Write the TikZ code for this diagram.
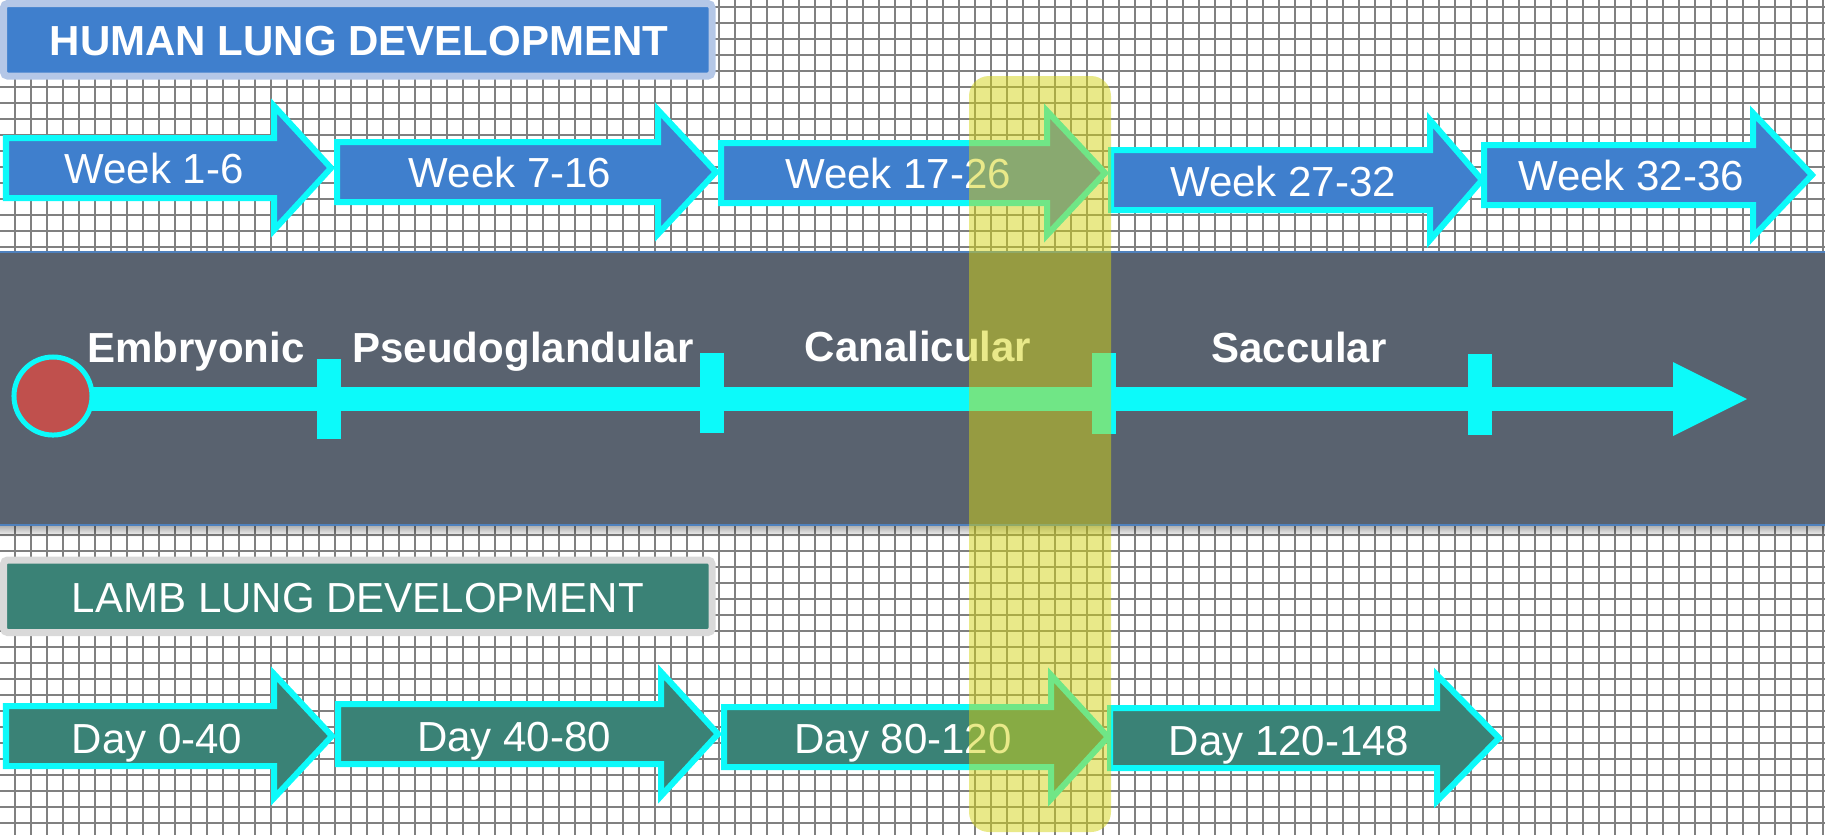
\documentclass[tikz,border=0pt]{standalone}
\usepackage{fontspec}
\setmainfont{Liberation Sans}
\usepackage{xcolor}
\usepackage{tikz}
\usetikzlibrary{fadings}
\definecolor{LungBlue}{HTML}{3F7FCD}
\definecolor{LungFrame}{HTML}{B4C7E7}
\definecolor{LambTeal}{HTML}{3A8276}
\definecolor{LambFrame}{HTML}{D9D9D9}
\definecolor{LungCyan}{HTML}{0CFAFA}
\definecolor{BandGray}{HTML}{59626F}
\definecolor{BandLine}{HTML}{4F81BD}
\definecolor{GridGray}{HTML}{808080}
\definecolor{StartRed}{HTML}{C0504D}
\definecolor{MarkYellow}{HTML}{D4D414}

\begin{document}
\begin{tikzpicture}[x=0.01cm,y=-0.01cm,
  gridline/.style={draw=GridGray,line width=0.017cm},
  weekarrow/.style={fill=LungBlue,draw=LungCyan,line width=0.06cm},
  dayarrow/.style={fill=LambTeal,draw=LungCyan,line width=0.06cm},
  arrowlabel/.style={text=white,inner sep=0pt,anchor=base,font=\fontsize{11.95}{14}\selectfont},
  phaselabel/.style={arrowlabel,font=\fontsize{11.95}{14}\selectfont\bfseries}]
\path[use as bounding box] (0,0) rectangle (1825,835);
\foreach \gx in {15,31,...,1825} \draw[gridline] (\gx,0) -- (\gx,835);
\foreach \gy in {7,23,...,835} \draw[gridline] (0,\gy) -- (1825,\gy);
\fill[BandGray] (0,252) rectangle (1825,525);
\draw[BandLine,line width=0.02cm] (0,252) -- (1825,252);
\draw[BandLine,line width=0.02cm] (0,525) -- (1825,525);
\fill[black,opacity=0.3,path fading=south] (0,526) rectangle (1825,537);
\draw[draw=LungFrame,fill=LungBlue,line width=0.07cm,rounded corners=0.04cm] (3.5,3.5) rectangle (712,76);
\node[phaselabel] (humantitle) at (359,55) {HUMAN LUNG DEVELOPMENT};
\draw[draw=LambFrame,fill=LambTeal,line width=0.07cm,rounded corners=0.04cm] (3.5,560) rectangle (712,632.5);
\node[arrowlabel] (lambtitle) at (358,612) {LAMB LUNG DEVELOPMENT};
\draw[weekarrow] (6,138) -- (274,138) -- (274,106) -- (331,168) -- (274,230) -- (274,198) -- (6,198) -- cycle;
\node[arrowlabel] (week1) at (154,183) {Week 1-6};
\draw[weekarrow] (337,142) -- (658,142) -- (658,110) -- (716,172) -- (658,234) -- (658,202) -- (337,202) -- cycle;
\node[arrowlabel] (week2) at (510,187) {Week 7-16};
\draw[weekarrow] (721,143) -- (1047,143) -- (1047,111) -- (1105,173) -- (1047,235) -- (1047,203) -- (721,203) -- cycle;
\node[arrowlabel] (week3) at (898,188) {Week 17-26};
\draw[weekarrow] (1111,150) -- (1430,150) -- (1430,120) -- (1482,180) -- (1430,240) -- (1430,210) -- (1111,210) -- cycle;
\node[arrowlabel] (week4) at (1283,196) {Week 27-32};
\draw[weekarrow] (1484,145) -- (1753,145) -- (1753,113) -- (1812,175) -- (1753,237) -- (1753,205) -- (1484,205) -- cycle;
\node[arrowlabel] (week5) at (1631,190) {Week 32-36};
\draw[dayarrow] (6,706) -- (274,706) -- (274,674) -- (332,736) -- (274,798) -- (274,766) -- (6,766) -- cycle;
\node[arrowlabel] (day1) at (157,753) {Day 0-40};
\draw[dayarrow] (338,704) -- (661,704) -- (661,672) -- (718,734) -- (661,796) -- (661,764) -- (338,764) -- cycle;
\node[arrowlabel] (day2) at (514,751) {Day 40-80};
\draw[dayarrow] (724,707) -- (1051,707) -- (1051,675) -- (1108,737) -- (1051,799) -- (1051,767) -- (724,767) -- cycle;
\node[arrowlabel] (day3) at (903,753) {Day 80-120};
\draw[dayarrow] (1110,708) -- (1437,708) -- (1437,675) -- (1499,738) -- (1437,801) -- (1437,768) -- (1110,768) -- cycle;
\node[arrowlabel] (day4) at (1289,755) {Day 120-148};
\draw[LungCyan,line width=0.24cm] (60,399) -- (1674,399);
\fill[LungCyan] (1673,362) -- (1747,399) -- (1673,436) -- cycle;
\fill[LungCyan] (317,359) rectangle (341,439);
\fill[LungCyan] (700,353) rectangle (724,433);
\fill[LungCyan] (1092,353) rectangle (1116,434);
\fill[LungCyan] (1468,354) rectangle (1492,435);
\draw[fill=StartRed,draw=LungCyan,line width=0.05cm] (53,396) circle[radius=0.39cm];
\node[phaselabel] (embryonic) at (196,362) {Embryonic};
\node[phaselabel] (pseudo) at (523,362) {Pseudoglandular};
\node[phaselabel] (canalicular) at (918,361) {Canalicular};
\node[phaselabel] (saccular) at (1299,362) {Saccular};
\fill[MarkYellow,opacity=0.5,rounded corners=0.2cm] (969,76) rectangle (1111,832);
\end{tikzpicture}
\end{document}
